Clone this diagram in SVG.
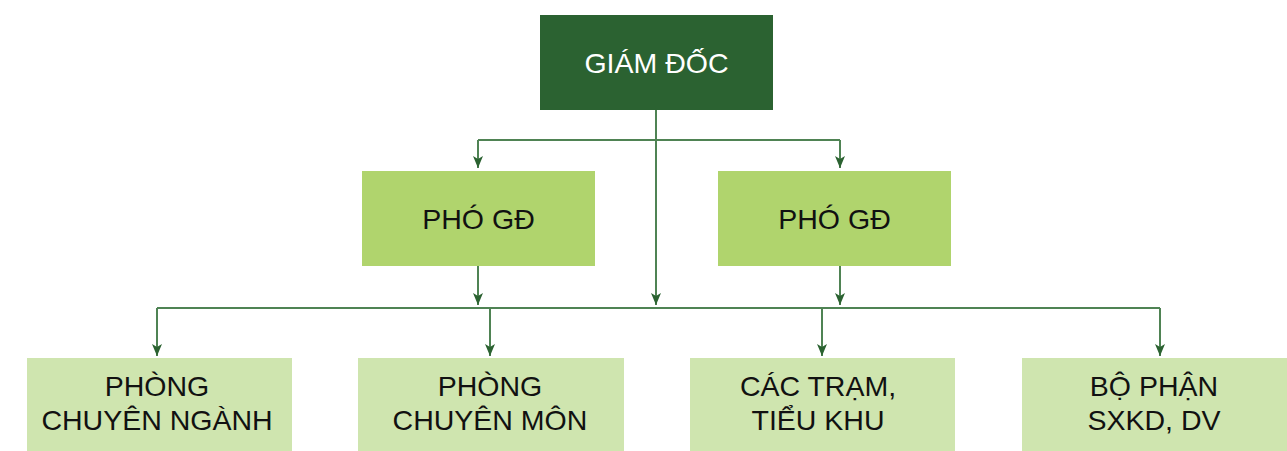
<svg xmlns="http://www.w3.org/2000/svg" width="1287" height="451" viewBox="0 0 1287 451">
  <style>
    .lbl { font-family: "Liberation Sans", Arial, sans-serif; font-size: 28.5px; text-anchor: middle; }
    .top rect { fill: #2b6231; }
    .top text { fill: #ffffff; }
    .mid rect { fill: #b0d46d; }
    .low rect { fill: #cfe5af; }
    .mid text, .low text { fill: #111111; }
    .wire { fill: none; stroke: #4f8354; stroke-width: 2; }
  </style>
  <defs>
    <marker id="arrow" viewBox="0 0 10 12" refX="5" refY="12" markerWidth="10" markerHeight="12" markerUnits="userSpaceOnUse" orient="0">
      <path d="M0,0 L5,3 L10,0 L5,12 Z" fill="#2b6231"/>
    </marker>
  </defs>

  <!-- connectors -->
  <g id="connectors" class="wire">
    <path d="M656,110 V140 M478,140 H840"/>
    <path d="M478,140 V168" marker-end="url(#arrow)"/>
    <path d="M840,140 V168" marker-end="url(#arrow)"/>
    <path d="M656,140 V305" marker-end="url(#arrow)"/>
    <path d="M478,266 V305" marker-end="url(#arrow)"/>
    <path d="M840,266 V305" marker-end="url(#arrow)"/>
    <path d="M157,308 H1160"/>
    <path d="M157,308 V356" marker-end="url(#arrow)"/>
    <path d="M490,308 V356" marker-end="url(#arrow)"/>
    <path d="M822,308 V356" marker-end="url(#arrow)"/>
    <path d="M1160,308 V356" marker-end="url(#arrow)"/>
  </g>

  <!-- director -->
  <g id="giam-doc" class="top">
    <rect x="540" y="15" width="233" height="95"/>
    <text class="lbl" x="656.5" y="73">GIÁM ĐỐC</text>
  </g>

  <!-- deputies -->
  <g id="pho-gd-1" class="mid">
    <rect x="362" y="171" width="233" height="95"/>
    <text class="lbl" x="478.5" y="229">PHÓ GĐ</text>
  </g>
  <g id="pho-gd-2" class="mid">
    <rect x="718" y="171" width="233" height="95"/>
    <text class="lbl" x="834.5" y="229">PHÓ GĐ</text>
  </g>

  <!-- units -->
  <g id="phong-chuyen-nganh" class="low">
    <rect x="27" y="358" width="265" height="93"/>
    <text class="lbl" x="157" y="396">PHÒNG</text>
    <text class="lbl" x="157" y="430">CHUYÊN NGÀNH</text>
  </g>
  <g id="phong-chuyen-mon" class="low">
    <rect x="358" y="358" width="266" height="93"/>
    <text class="lbl" x="490" y="396">PHÒNG</text>
    <text class="lbl" x="490" y="430">CHUYÊN MÔN</text>
  </g>
  <g id="cac-tram" class="low">
    <rect x="690" y="358" width="265" height="93"/>
    <text class="lbl" x="818" y="396">CÁC TRẠM,</text>
    <text class="lbl" x="818" y="430">TIỂU KHU</text>
  </g>
  <g id="bo-phan-sxkd" class="low">
    <rect x="1022" y="358" width="265" height="93"/>
    <text class="lbl" x="1154" y="396">BỘ PHẬN</text>
    <text class="lbl" x="1154" y="430">SXKD, DV</text>
  </g>
</svg>
